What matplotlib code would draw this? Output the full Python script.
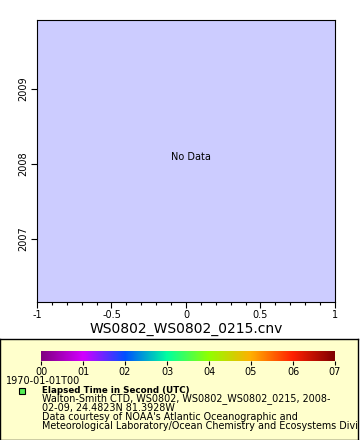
import numpy as np
import matplotlib
matplotlib.use("Agg")
import matplotlib.pyplot as plt
from matplotlib.colors import LinearSegmentedColormap
from matplotlib.patches import Rectangle
from matplotlib.ticker import MultipleLocator

# Ejes y textos
x_range = [-1, 1]
x_ticks = [-1, -0.5, 0, 0.5, 1]
x_tick_labels = ["-1", "-0.5", "0", "0.5", "1"]
y_range = [2006.16, 2009.92]
y_ticks = [2007, 2008, 2009]
x_label = "WS0802_WS0802_0215.cnv"
cbar_ticks = [0, 1, 2, 3, 4, 5, 6, 7]
cbar_labels = ["00", "01", "02", "03", "04", "05", "06", "07"]
cbar_colors = ["#800080", "#d200ff", "#0050ff", "#00ffa0",
               "#90ff00", "#ffb000", "#ff2000", "#800000"]
time_label = "1970-01-01T00"
legend_title = "Elapsed Time in Second (UTC)"
legend_lines = [
    "Walton-Smith CTD, WS0802, WS0802_WS0802_0215, 2008-",
    "02-09, 24.4823N 81.3928W",
    "Data courtesy of NOAA's Atlantic Oceanographic and",
    "Meteorological Laboratory/Ocean Chemistry and Ecosystems Divi",
]

W, H = 360, 440
fig = plt.figure(figsize=(W / 100, H / 100), dpi=100)
fig.patch.set_facecolor("white")


def fbox(x0, y0, x1, y1):
    # caja en pixeles (origen arriba-izquierda) -> coords de figura
    return [x0 / W, 1 - y1 / H, (x1 - x0) / W, (y1 - y0) / H]


# Caja de leyenda (fondo)
bg = fig.add_axes(fbox(0, 339, 358, 440), zorder=-5)
bg.set_facecolor("#ffffcc")
bg.set_xticks([])
bg.set_yticks([])
for s in bg.spines.values():
    s.set_linewidth(1)

# Panel principal
ax = fig.add_axes(fbox(37, 20, 335, 302))
ax.set_facecolor("#ccccff")
ax.set_xlim(x_range)
ax.set_ylim(y_range)
ax.set_xticks(x_ticks)
ax.set_xticklabels(x_tick_labels)
ax.xaxis.set_minor_locator(MultipleLocator(0.1))
ax.set_yticks(y_ticks)
ax.set_yticklabels([str(y) for y in y_ticks], rotation=90, va="center")
ax.tick_params(axis="both", labelsize=7, length=4, width=0.8, direction="out", pad=2)
ax.tick_params(axis="x", which="minor", length=2, width=0.8)
ax.set_xlabel(x_label, fontsize=10, labelpad=1)
ax.text(0.03, (y_range[0] + y_range[1]) / 2 + 0.05, "No Data", ha="center",
        va="center", fontsize=7)
for s in ax.spines.values():
    s.set_linewidth(0.8)

# Barra de color
cmap = LinearSegmentedColormap.from_list("rainbow2", cbar_colors)
cax = fig.add_axes(fbox(41, 351, 335, 361))
grad = np.linspace(cbar_ticks[0], cbar_ticks[-1], 256).reshape(1, -1)
cax.imshow(grad, aspect="auto", cmap=cmap,
           extent=[cbar_ticks[0], cbar_ticks[-1], 0, 1])
cax.set_xlim(cbar_ticks[0], cbar_ticks[-1])
cax.set_yticks([])
cax.set_xticks(cbar_ticks)
cax.set_xticklabels(cbar_labels)
cax.tick_params(axis="x", labelsize=7, length=3, width=0.8, pad=1)
for s in cax.spines.values():
    s.set_visible(False)

fig.text(6 / W, 1 - 381 / H, time_label, fontsize=7, va="center", ha="left")
fig.patches.append(Rectangle((19 / W, 1 - 394 / H), 6 / W, 6 / H,
                             transform=fig.transFigure, facecolor="#55ee55",
                             edgecolor="black", linewidth=0.8))
fig.text(42 / W, 1 - 390 / H, legend_title, fontsize=6.3, fontweight="bold",
         va="center", ha="left")
for i, line in enumerate(legend_lines):
    fig.text(42 / W, 1 - (399 + 9 * i) / H, line, fontsize=6.9,
             va="center", ha="left")

fig.savefig("out.png", dpi=100)
